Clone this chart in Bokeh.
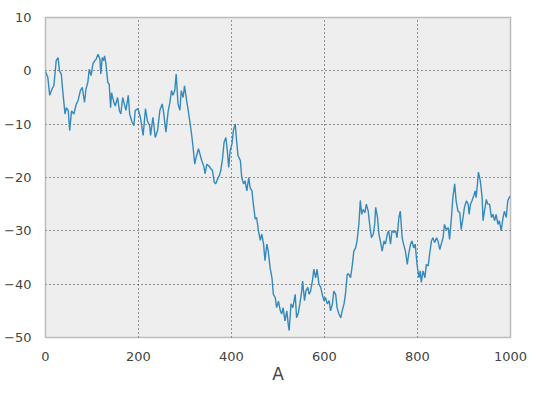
from bokeh.plotting import figure
from bokeh.models import Range1d, FixedTicker, CustomJSTickFormatter, ColumnDataSource
from bokeh.embed import file_html
from bokeh.resources import INLINE

x_vals = [0, 2, 5, 9, 14, 18, 23, 27, 30, 34, 37, 42, 45, 49, 52, 56, 61, 66, 70, 75,
          79, 84, 87, 91, 94, 98, 102, 106, 109, 113, 117, 119, 122, 125, 127, 130, 134, 137, 140, 142,
          147, 150, 155, 159, 162, 166,
          173, 178, 181, 186, 190, 193, 199, 204, 210, 215, 219, 224, 226, 231, 236, 241, 246, 251, 254, 259,
          264, 267, 271, 274, 278, 281, 285, 289, 292, 296, 299, 303, 306, 310, 314, 317, 321, 324, 329, 334,
          336, 341, 343, 347, 351, 356, 359, 363, 366, 370, 374, 377, 381, 384, 388, 391, 394, 397, 401, 404,
          408, 411, 414, 419, 422, 426, 429, 433, 437, 440, 444, 447, 451, 454, 458, 462, 465, 469, 472, 476,
          479, 483, 487, 490, 494, 497, 501, 505,
          508, 511, 515, 519, 522, 524, 528, 532, 537, 540, 544, 547, 551, 553, 557, 560, 564, 567, 570, 574,
          577, 581, 584, 588, 592, 595, 599, 602, 606, 610, 613, 617, 620, 624, 627, 631, 635, 638, 642, 645,
          649, 652, 656, 660, 663, 667, 670, 674, 677,
          680, 683, 687, 690, 694, 697, 701, 705, 708, 710, 714, 717, 720, 724, 728, 731, 735, 738, 742, 745,
          749, 753, 756, 760, 763, 767, 770, 774, 778, 781, 785, 788, 792, 795, 799, 803, 806, 808, 812, 816,
          819, 823, 826, 830, 833, 837, 841, 844,
          848, 851, 855, 858, 862, 866, 869, 873, 876, 880, 883, 887, 891, 894, 898, 901, 905, 909, 911, 914,
          917, 921, 924, 926, 929, 931, 935, 939, 941, 944, 948, 951, 955, 959, 962, 966, 969, 973, 976, 980,
          984, 987, 991, 994, 997, 999]

y_vals = [-0.2, -0.6, -1.2, -4.6, -3.4, -2.8, 1.9, 2.5, 0.0, -0.6, -3.7, -8.1, -6.9, -7.5, -11.2, -7.5, -8.1, -6.3, -5.6, -3.7,
          -3.1, -5.9, -3.4, -2.2, 0.3, -0.9, 1.3, 1.9, 2.2, 3.1, 2.2, -0.6, 2.5, 1.9, 2.8, 1.3, -2.2, -2.5, -6.9, -4.1,
          -5.9, -6.6, -5.0, -7.5, -8.1, -5.0,
          -7.4, -4.6, -8.1, -9.6, -10.3, -7.4, -7.1, -8.7, -12.1, -7.1, -9.3, -10.3, -12.1, -8.7, -12.5, -11.2, -7.4, -6.2, -7.8, -11.5,
          -7.4, -6.2, -3.7, -4.6, -3.7, -0.6, -6.2, -7.4, -3.7, -5.0, -2.8, -5.3, -6.9, -9.3, -11.8, -14.0, -17.5, -16.2, -14.6, -16.2,
          -16.8, -18.1, -19.3, -17.5, -17.8, -18.4, -18.7, -20.9, -21.2, -20.3, -19.6, -18.7, -16.2, -13.4, -12.5, -15.0, -18.1, -15.0, -13.7, -11.2,
          -10.0, -13.1, -15.9, -16.8, -20.0, -21.2, -20.6, -22.5, -20.0, -21.9, -22.5, -25.0, -27.8, -27.5, -30.0, -31.8, -30.6, -32.5, -35.6, -32.5,
          -33.8, -36.9, -38.8, -41.9, -42.5, -44.4, -43.2, -45.0,
          -45.6, -44.4, -46.9, -45.0, -47.5, -48.7, -43.7, -44.4, -41.9, -46.3, -45.3, -43.7, -41.3, -39.4, -43.1, -41.3, -40.6, -41.9, -41.3, -39.4,
          -37.2, -38.8, -37.2, -40.0, -40.6, -41.9, -43.1, -42.5, -43.7, -43.1, -45.0, -43.7, -41.3, -41.9, -44.4, -45.6, -46.3, -45.0, -43.7, -41.9,
          -38.1, -38.1, -38.8, -36.3, -33.8, -33.2, -31.9, -28.7, -24.3,
          -26.9, -26.0, -26.6, -25.0, -26.3, -28.7, -31.3, -30.6, -28.7, -25.6, -27.5, -30.6, -31.9, -33.8, -31.9, -32.5, -30.6, -30.0, -32.5, -30.0,
          -30.3, -30.0, -31.3, -27.5, -26.3, -31.3, -32.5, -33.8, -36.3, -34.4, -32.5, -31.9, -33.2, -32.5, -36.3, -38.8, -37.5, -39.7, -37.5, -38.8,
          -36.3, -36.6, -34.4, -31.9, -31.3, -32.2, -31.3, -31.9,
          -33.5, -32.5, -31.3, -28.8, -29.8, -29.4, -31.6, -27.5, -23.8, -21.2, -24.4, -26.3, -26.6, -29.8, -27.5, -25.6, -24.4, -25.0, -26.9, -25.0,
          -24.4, -23.4, -22.5, -23.8, -21.2, -19.0, -20.6, -23.8, -28.1, -26.3, -24.1, -25.0, -25.0, -27.5, -26.9, -28.1, -26.9, -28.8, -28.1, -30.0,
          -27.5, -26.3, -27.5, -24.4, -23.8, -23.5]

x_ticks = [0, 200, 400, 600, 800, 1000]
y_ticks = [-50, -40, -30, -20, -10, 0, 10]
x_label = "A"

assert len(x_vals) == len(y_vals), (len(x_vals), len(y_vals))

src = ColumnDataSource(data=dict(x=x_vals, y=y_vals))

p = figure(width=536, height=394, output_backend="svg", toolbar_location=None,
           x_range=Range1d(0, 1000), y_range=Range1d(-50, 10),
           min_border_left=45, min_border_right=26, min_border_top=17, min_border_bottom=57)

p.background_fill_color = "#eeeeee"
p.border_fill_color = "white"
p.outline_line_color = "#bcbcbc"
p.outline_line_width = 1.5

p.line("x", "y", source=src, line_color="#348ABD", line_width=1.4)

fmt = CustomJSTickFormatter(code="return tick < 0 ? '\u2212' + Math.abs(tick) : String(tick);")

for ax in (p.xaxis[0], p.yaxis[0]):
    ax.axis_line_color = None
    ax.major_tick_line_color = None
    ax.minor_tick_line_color = None
    ax.major_label_text_font = "DejaVu Sans"
    ax.major_label_text_font_size = "13px"
    ax.major_label_text_color = "#444444"
    ax.formatter = fmt

p.xaxis[0].ticker = FixedTicker(ticks=x_ticks)
p.yaxis[0].ticker = FixedTicker(ticks=y_ticks)
p.xaxis[0].major_label_standoff = 8
p.yaxis[0].major_label_standoff = 8

p.xaxis[0].axis_label = x_label
p.xaxis[0].axis_label_text_font = "DejaVu Sans"
p.xaxis[0].axis_label_text_font_size = "17px"
p.xaxis[0].axis_label_text_font_style = "normal"
p.xaxis[0].axis_label_text_color = "#444444"
p.xaxis[0].axis_label_standoff = 0

for g in (p.xgrid[0], p.ygrid[0]):
    g.grid_line_color = "#333333"
    g.grid_line_dash = "1 3"
    g.grid_line_width = 1

p.xgrid[0].ticker = FixedTicker(ticks=x_ticks)
p.ygrid[0].ticker = FixedTicker(ticks=y_ticks)

open("out.html", "w").write(file_html(p, INLINE))
